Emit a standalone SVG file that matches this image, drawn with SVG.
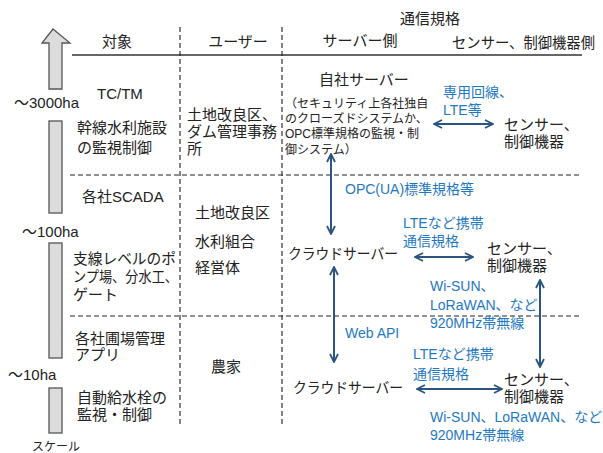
<svg xmlns="http://www.w3.org/2000/svg" width="603" height="453" viewBox="0 0 603 453">
<defs>
<style>
text{font-family:"Liberation Sans","Noto Sans CJK JP",sans-serif;fill:#222}
.t{font-size:15px}
.s{font-size:12px}
.b{font-size:14px;fill:#1f78c4}
.dash{stroke:#222;stroke-width:1.1;stroke-dasharray:5 3;fill:none}
.con{stroke:#2b5580;stroke-width:2;fill:none;marker-start:url(#ah);marker-end:url(#ah)}
.scale{fill:#dcdcdc;stroke:#555;stroke-width:1.3}
</style>
<marker id="ah" viewBox="0 0 10 10" refX="9" refY="5" markerWidth="5" markerHeight="5" orient="auto-start-reverse" markerUnits="strokeWidth">
<path d="M1,1 L9,5 L1,9" fill="none" stroke="#2b5580" stroke-width="1.8"/>
</marker>
</defs>
<rect width="603" height="453" fill="#fff"/>
<g id="scale">
<polygon class="scale" points="53,29 70,43 62,43 62,89 49,89 49,43 42,43"/>
<rect class="scale" x="49" y="121" width="13" height="92"/>
<rect class="scale" x="49" y="243" width="13" height="115"/>
<rect class="scale" x="49" y="388" width="13" height="45"/>
<text class="t" x="14" y="108">～3000ha</text>
<text class="t" x="22" y="237">～100ha</text>
<text class="t" x="8" y="380">～10ha</text>
<text class="s" x="32" y="451">スケール</text>
</g>
<g id="grid">
<line x1="72" y1="55" x2="582" y2="55" stroke="#666" stroke-width="2"/>
<line class="dash" x1="180" y1="27" x2="180" y2="426"/>
<line class="dash" x1="282" y1="27" x2="282" y2="426"/>
<line class="dash" x1="70" y1="175" x2="582" y2="175"/>
<line class="dash" x1="70" y1="316" x2="582" y2="316"/>
</g>
<g id="headers">
<text class="t" x="117" y="47" text-anchor="middle">対象</text>
<text class="t" x="238" y="47" text-anchor="middle">ユーザー</text>
<text class="t" x="430" y="24" text-anchor="middle">通信規格</text>
<text class="t" x="360" y="46" text-anchor="middle">サーバー側</text>
<text class="t" x="452" y="48" textLength="143" lengthAdjust="spacingAndGlyphs">センサー、制御機器側</text>
</g>
<g id="target-top">
<text class="t" x="97" y="99">TC/TM</text>
<text class="t" x="77" y="133">幹線水利施設</text>
<text class="t" x="77" y="153">の監視制御</text>
</g>
<g id="user-top">
<text class="t" x="187" y="120">土地改良区、</text>
<text class="t" x="187" y="137">ダム管理事務</text>
<text class="t" x="187" y="154">所</text>
</g>
<g id="own-server">
<text class="t" x="319" y="85">自社サーバー</text>
<text class="s" x="285" y="108">（セキュリティ上各社独自</text>
<text class="s" x="285" y="123">のクローズドシステムか、</text>
<text class="s" x="285" y="138">OPC標準規格の監視・制</text>
<text class="s" x="285" y="154">御システム）</text>
</g>
<g id="sensor-top">
<text class="t" x="504" y="130">センサー、</text>
<text class="t" x="504" y="147">制御機器</text>
</g>
<g id="target-mid">
<text class="t" x="82" y="202">各社SCADA</text>
<text class="t" x="73" y="264" textLength="103" lengthAdjust="spacingAndGlyphs">支線レベルのポ</text>
<text class="t" x="73" y="282" textLength="105" lengthAdjust="spacingAndGlyphs">ンプ場、分水工、</text>
<text class="t" x="73" y="300">ゲート</text>
</g>
<g id="user-mid">
<text class="t" x="195" y="218">土地改良区</text>
<text class="t" x="195" y="247">水利組合</text>
<text class="t" x="195" y="273">経営体</text>
</g>
<g id="cloud-mid">
<text class="t" x="288" y="259" textLength="110" lengthAdjust="spacingAndGlyphs">クラウドサーバー</text>
</g>
<g id="sensor-mid">
<text class="t" x="487" y="254">センサー、</text>
<text class="t" x="487" y="271">制御機器</text>
</g>
<g id="target-bot">
<text class="t" x="75" y="344">各社圃場管理</text>
<text class="t" x="75" y="360">アプリ</text>
<text class="t" x="77" y="403">自動給水栓の</text>
<text class="t" x="77" y="420">監視・制御</text>
</g>
<g id="user-bot">
<text class="t" x="226" y="372" text-anchor="middle">農家</text>
</g>
<g id="cloud-bot">
<text class="t" x="293" y="393" textLength="110" lengthAdjust="spacingAndGlyphs">クラウドサーバー</text>
</g>
<g id="sensor-bot">
<text class="t" x="504" y="385">センサー、</text>
<text class="t" x="504" y="402">制御機器</text>
</g>
<g id="connectors">
<line class="con" x1="434" y1="124" x2="493" y2="124"/>
<line class="con" x1="331" y1="154" x2="331" y2="234"/>
<line class="con" x1="415" y1="257" x2="473" y2="257"/>
<line class="con" x1="334" y1="267" x2="334" y2="362"/>
<line class="con" x1="540" y1="280" x2="540" y2="367"/>
<line class="con" x1="417" y1="389" x2="502" y2="389"/>
</g>
<g id="labels">
<text class="b" x="443" y="97">専用回線、</text>
<text class="b" x="443" y="115">LTE等</text>
<text class="b" x="345" y="194">OPC(UA)標準規格等</text>
<text class="b" x="403" y="228">LTEなど携帯</text>
<text class="b" x="403" y="246">通信規格</text>
<text class="b" x="430" y="291">Wi-SUN、</text>
<text class="b" x="430" y="310">LoRaWAN、など</text>
<text class="b" x="430" y="328">920MHz帯無線</text>
<text class="b" x="345" y="338">Web API</text>
<text class="b" x="413" y="359">LTEなど携帯</text>
<text class="b" x="413" y="379">通信規格</text>
<text class="b" x="430" y="422">Wi-SUN、LoRaWAN、など</text>
<text class="b" x="430" y="440">920MHz帯無線</text>
</g>
</svg>
